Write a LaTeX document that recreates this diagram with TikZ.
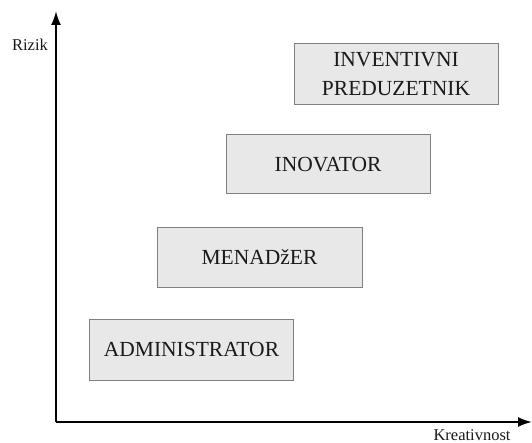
\documentclass[tikz,border=0pt]{standalone}
\usepackage{fontspec}
\setmainfont{Liberation Serif}
\usetikzlibrary{arrows.meta}
\definecolor{boxfill}{HTML}{E8E8E8}
\definecolor{boxline}{HTML}{808080}
\definecolor{txt}{HTML}{1A1A1A}
\begin{document}
\begin{tikzpicture}[x=1pt,y=-1pt,
  rolebox/.style={draw=boxline,line width=1pt,fill=boxfill,inner sep=0pt,
    text=txt,font=\fontsize{21.5}{28.5}\selectfont,align=center},
  axislbl/.style={text=txt,font=\fontsize{16.5}{20}\selectfont,inner sep=0pt},
  axisline/.style={line width=2pt,-{Latex[length=14pt,width=10pt]}}]
\useasboundingbox (0,0) rectangle (532,443);
\coordinate (O) at (56,422);
\coordinate (Ytop) at (56,11);
\coordinate (Xend) at (532,422);
\draw[axisline] (O) -- (Ytop);
\draw[axisline] (O) -- (Xend);
\node[axislbl] (rizik) at (30,45) {Rizik};
\node[axislbl] (kreat) at (472,435) {Kreativnost};
\node[rolebox,minimum width=204pt,minimum height=61pt] (adm) at (191.5,349.5) {ADMINISTRATOR};
\node[rolebox,minimum width=205pt,minimum height=60pt] (men) at (259.5,257.5) {MENADžER};
\node[rolebox,minimum width=204pt,minimum height=59pt] (inov) at (328,164.5) {INOVATOR};
\node[rolebox,minimum width=204pt,minimum height=61pt] (inv) at (396,74) {INVENTIVNI\\PREDUZETNIK};
\end{tikzpicture}
\end{document}
